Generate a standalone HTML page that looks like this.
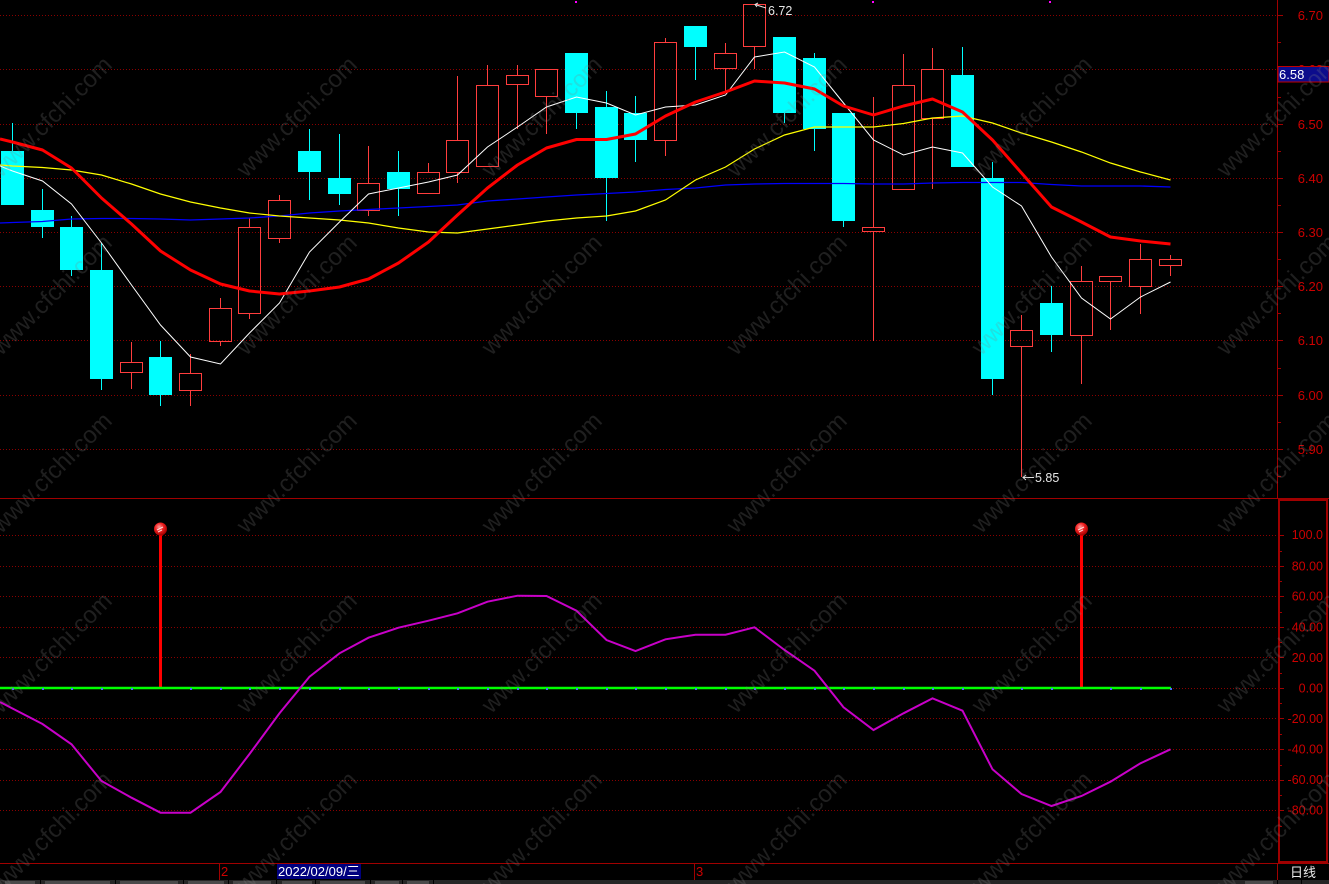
<!DOCTYPE html>
<html><head><meta charset="utf-8"><style>
html,body{margin:0;padding:0;background:#000;}
svg{display:block;}
text{font-family:"Liberation Sans","Noto Sans CJK SC",sans-serif;}
</style></head><body>
<svg width="1329" height="884" viewBox="0 0 1329 884" xmlns="http://www.w3.org/2000/svg">
<defs>
<radialGradient id="ball" cx="40%" cy="35%" r="65%">
<stop offset="0" stop-color="#ff9a9a"/><stop offset="0.5" stop-color="#f02020"/><stop offset="1" stop-color="#a00000"/>
</radialGradient>
</defs>
<rect width="1329" height="884" fill="#000"/>

<!-- upper grid -->
<g stroke="#8a0000" stroke-width="1" stroke-dasharray="1 2">
<line x1="0" y1="15.5" x2="1277" y2="15.5"/>
<line x1="0" y1="69.5" x2="1277" y2="69.5"/>
<line x1="0" y1="124.5" x2="1277" y2="124.5"/>
<line x1="0" y1="178.5" x2="1277" y2="178.5"/>
<line x1="0" y1="232.5" x2="1277" y2="232.5"/>
<line x1="0" y1="286.5" x2="1277" y2="286.5"/>
<line x1="0" y1="340.5" x2="1277" y2="340.5"/>
<line x1="0" y1="395.5" x2="1277" y2="395.5"/>
<line x1="0" y1="449.5" x2="1277" y2="449.5"/>
</g>
<!-- lower grid -->
<g stroke="#8a0000" stroke-width="1" stroke-dasharray="1 2">
<line x1="0" y1="535.5" x2="1277" y2="535.5"/>
<line x1="0" y1="566.5" x2="1277" y2="566.5"/>
<line x1="0" y1="596.5" x2="1277" y2="596.5"/>
<line x1="0" y1="627.5" x2="1277" y2="627.5"/>
<line x1="0" y1="657.5" x2="1277" y2="657.5"/>
<line x1="0" y1="688.5" x2="1277" y2="688.5"/>
<line x1="0" y1="718.5" x2="1277" y2="718.5"/>
<line x1="0" y1="749.5" x2="1277" y2="749.5"/>
<line x1="0" y1="780.5" x2="1277" y2="780.5"/>
<line x1="0" y1="810.5" x2="1277" y2="810.5"/>
</g>

<!-- cyan candles -->
<g stroke="#00ffff" stroke-width="1">
<line x1="12.5" y1="123" x2="12.5" y2="205"/>
<line x1="42.5" y1="189" x2="42.5" y2="238"/>
<line x1="71.5" y1="216" x2="71.5" y2="276"/>
<line x1="101.5" y1="243" x2="101.5" y2="390"/>
<line x1="160.5" y1="341" x2="160.5" y2="406"/>
<line x1="309.5" y1="129" x2="309.5" y2="200"/>
<line x1="339.5" y1="134" x2="339.5" y2="205"/>
<line x1="398.5" y1="151" x2="398.5" y2="216"/>
<line x1="576.5" y1="53" x2="576.5" y2="129"/>
<line x1="606.5" y1="91" x2="606.5" y2="221"/>
<line x1="635.5" y1="96" x2="635.5" y2="162"/>
<line x1="695.5" y1="26" x2="695.5" y2="80"/>
<line x1="784.5" y1="37" x2="784.5" y2="123"/>
<line x1="814.5" y1="53" x2="814.5" y2="151"/>
<line x1="843.5" y1="113" x2="843.5" y2="227"/>
<line x1="962.5" y1="47" x2="962.5" y2="167"/>
<line x1="992.5" y1="162" x2="992.5" y2="395"/>
<line x1="1051.5" y1="286" x2="1051.5" y2="352"/>
</g>
<g fill="#00ffff">
<rect x="1" y="151" width="23" height="54"/>
<rect x="31" y="210" width="23" height="17"/>
<rect x="60" y="227" width="23" height="43"/>
<rect x="90" y="270" width="23" height="109"/>
<rect x="149" y="357" width="23" height="38"/>
<rect x="298" y="151" width="23" height="21"/>
<rect x="328" y="178" width="23" height="16"/>
<rect x="387" y="172" width="23" height="17"/>
<rect x="565" y="53" width="23" height="60"/>
<rect x="595" y="107" width="23" height="71"/>
<rect x="624" y="113" width="23" height="27"/>
<rect x="684" y="26" width="23" height="21"/>
<rect x="773" y="37" width="23" height="76"/>
<rect x="803" y="58" width="23" height="71"/>
<rect x="832" y="113" width="23" height="108"/>
<rect x="951" y="75" width="23" height="92"/>
<rect x="981" y="178" width="23" height="201"/>
<rect x="1040" y="303" width="23" height="32"/>
</g>

<!-- red hollow candles -->
<g stroke="#ff3d3d" stroke-width="1" fill="none">
<line x1="131.5" y1="342" x2="131.5" y2="362"/><line x1="131.5" y1="373" x2="131.5" y2="389"/>
<rect x="120.5" y="362.5" width="22" height="10"/>
<line x1="190.5" y1="354" x2="190.5" y2="373"/><line x1="190.5" y1="391" x2="190.5" y2="406"/>
<rect x="179.5" y="373.5" width="22" height="17"/>
<line x1="220.5" y1="298" x2="220.5" y2="308"/><line x1="220.5" y1="342" x2="220.5" y2="346"/>
<rect x="209.5" y="308.5" width="22" height="33"/>
<line x1="249.5" y1="218" x2="249.5" y2="227"/><line x1="249.5" y1="314" x2="249.5" y2="319"/>
<rect x="238.5" y="227.5" width="22" height="86"/>
<line x1="279.5" y1="195" x2="279.5" y2="200"/><line x1="279.5" y1="239" x2="279.5" y2="243"/>
<rect x="268.5" y="200.5" width="22" height="38"/>
<line x1="368.5" y1="146" x2="368.5" y2="183"/><line x1="368.5" y1="211" x2="368.5" y2="216"/>
<rect x="357.5" y="183.5" width="22" height="27"/>
<line x1="428.5" y1="163" x2="428.5" y2="172"/>
<rect x="417.5" y="172.5" width="22" height="21"/>
<line x1="457.5" y1="76" x2="457.5" y2="140"/><line x1="457.5" y1="173" x2="457.5" y2="183"/>
<rect x="446.5" y="140.5" width="22" height="32"/>
<line x1="487.5" y1="65" x2="487.5" y2="85"/>
<rect x="476.5" y="85.5" width="22" height="81"/>
<line x1="517.5" y1="65" x2="517.5" y2="75"/><line x1="517.5" y1="85" x2="517.5" y2="129"/>
<rect x="506.5" y="75.5" width="22" height="9"/>
<line x1="546.5" y1="97" x2="546.5" y2="134"/>
<rect x="535.5" y="69.5" width="22" height="27"/>
<line x1="665.5" y1="38" x2="665.5" y2="42"/><line x1="665.5" y1="141" x2="665.5" y2="156"/>
<rect x="654.5" y="42.5" width="22" height="98"/>
<line x1="725.5" y1="43" x2="725.5" y2="53"/><line x1="725.5" y1="69" x2="725.5" y2="91"/>
<rect x="714.5" y="53.5" width="22" height="15"/>
<line x1="754.5" y1="47" x2="754.5" y2="69"/>
<rect x="743.5" y="4.5" width="22" height="42"/>
<line x1="873.5" y1="97" x2="873.5" y2="227"/><line x1="873.5" y1="232" x2="873.5" y2="341"/>
<rect x="862.5" y="227.5" width="22" height="4"/>
<line x1="903.5" y1="54" x2="903.5" y2="85"/>
<rect x="892.5" y="85.5" width="22" height="104"/>
<line x1="932.5" y1="48" x2="932.5" y2="69"/><line x1="932.5" y1="119" x2="932.5" y2="189"/>
<rect x="921.5" y="69.5" width="22" height="49"/>
<line x1="1021.5" y1="315" x2="1021.5" y2="330"/><line x1="1021.5" y1="347" x2="1021.5" y2="477"/>
<rect x="1010.5" y="330.5" width="22" height="16"/>
<line x1="1081.5" y1="266" x2="1081.5" y2="281"/><line x1="1081.5" y1="336" x2="1081.5" y2="384"/>
<rect x="1070.5" y="281.5" width="22" height="54"/>
<line x1="1110.5" y1="282" x2="1110.5" y2="330"/>
<rect x="1099.5" y="276.5" width="22" height="5"/>
<line x1="1140.5" y1="244" x2="1140.5" y2="259"/><line x1="1140.5" y1="287" x2="1140.5" y2="314"/>
<rect x="1129.5" y="259.5" width="22" height="27"/>
<line x1="1170.5" y1="255" x2="1170.5" y2="259"/><line x1="1170.5" y1="266" x2="1170.5" y2="276"/>
<rect x="1159.5" y="259.5" width="22" height="6"/>
</g>

<!-- moving averages -->
<polyline fill="none" stroke="#0000ff" stroke-width="1.3" points="0,223 12.5,222.5 42.5,221.5 71.5,219 101.5,218.5 131.5,218.5 160.5,219 190.5,220 220.5,219 249.5,218 279.5,216 309.5,213 339.5,211 368.5,209.5 398.5,208 428.5,206.5 457.5,205 487.5,201 517.5,199 546.5,197 576.5,195 606.5,193.5 635.5,192 665.5,189.5 695.5,188 725.5,185 754.5,184 784.5,183.5 814.5,183.5 843.5,183.5 873.5,184 903.5,184 932.5,183 962.5,182.5 992.5,182.5 1021.5,182.5 1051.5,184.5 1081.5,186 1110.5,186 1140.5,186 1170.5,187"/>
<polyline fill="none" stroke="#ffff00" stroke-width="1.2" points="0,165 12.5,166 42.5,167.5 71.5,170 101.5,175 131.5,184 160.5,194 190.5,202 220.5,208 249.5,213 279.5,216 309.5,218 339.5,220 368.5,223 398.5,228 428.5,232 457.5,233 487.5,229 517.5,225 546.5,221 576.5,218 606.5,216 635.5,211 665.5,200 695.5,180 725.5,167 754.5,149 784.5,135 814.5,127 843.5,127 873.5,127 903.5,123.5 932.5,118 962.5,116 992.5,123 1021.5,133 1051.5,142 1081.5,152 1110.5,163 1140.5,172 1170.5,180"/>
<polyline fill="none" stroke="#ffffff" stroke-width="1" points="0,166 12.5,171 42.5,181 71.5,204 101.5,243 131.5,285 160.5,325 190.5,357 220.5,364 249.5,333 279.5,303 309.5,252 339.5,222 368.5,194 398.5,188 428.5,182 457.5,175 487.5,147 517.5,127 546.5,107 576.5,97 606.5,103 635.5,115 665.5,107 695.5,105 725.5,95 754.5,57 784.5,52 814.5,67 843.5,103 873.5,140 903.5,155 932.5,147 962.5,153 992.5,187 1021.5,206 1051.5,257 1081.5,298 1110.5,319 1140.5,297 1170.5,282"/>
<polyline fill="none" stroke="#ff0000" stroke-width="3" stroke-linejoin="round" points="0,139 12.5,142 42.5,150 71.5,168 101.5,198 131.5,224 160.5,251 190.5,270 220.5,284 249.5,291 279.5,294 309.5,291 339.5,287 368.5,279 398.5,263 428.5,242 457.5,215 487.5,188 517.5,165 546.5,148 576.5,139.5 606.5,139.5 635.5,134 665.5,116 695.5,102 725.5,92 754.5,81 784.5,83 814.5,89 843.5,106 873.5,115 903.5,106 932.5,99 962.5,112 992.5,140 1021.5,173 1051.5,207 1081.5,222 1110.5,237 1140.5,241 1170.5,244"/>

<!-- annotations -->
<g stroke="#e0e0e0" stroke-width="1" fill="none">
<polyline points="766,8 755,4.5"/><polyline points="758,3 755,4.5 757,7"/>
<polyline points="1023,477.5 1034,477.5"/><polyline points="1026,475 1023,477.5 1026,480"/>
</g>
<text x="768" y="15" font-size="12.5" fill="#e6e6e6">6.72</text>
<text x="1035" y="482" font-size="12.5" fill="#e6e6e6">5.85</text>

<!-- top magenta dots -->
<g fill="#ff00ff"><rect x="575" y="1" width="2" height="2"/><rect x="872" y="1" width="2" height="2"/><rect x="1049" y="1" width="2" height="2"/></g>

<!-- lower indicator -->
<rect x="159" y="534" width="3" height="154" fill="#ff0000"/>
<rect x="1080" y="534" width="3" height="154" fill="#ff0000"/>
<line x1="0" y1="688" x2="1171" y2="688" stroke="#00ff00" stroke-width="2.5"/>
<g fill="#4a6cff">
<rect x="12" y="688" width="2" height="2"/><rect x="42" y="688" width="2" height="2"/><rect x="71" y="688" width="2" height="2"/><rect x="101" y="688" width="2" height="2"/><rect x="131" y="688" width="2" height="2"/><rect x="190" y="688" width="2" height="2"/><rect x="220" y="688" width="2" height="2"/><rect x="249" y="688" width="2" height="2"/><rect x="279" y="688" width="2" height="2"/><rect x="309" y="688" width="2" height="2"/><rect x="339" y="688" width="2" height="2"/><rect x="368" y="688" width="2" height="2"/><rect x="398" y="688" width="2" height="2"/><rect x="428" y="688" width="2" height="2"/><rect x="457" y="688" width="2" height="2"/><rect x="487" y="688" width="2" height="2"/><rect x="517" y="688" width="2" height="2"/><rect x="546" y="688" width="2" height="2"/><rect x="576" y="688" width="2" height="2"/><rect x="606" y="688" width="2" height="2"/><rect x="635" y="688" width="2" height="2"/><rect x="665" y="688" width="2" height="2"/><rect x="695" y="688" width="2" height="2"/><rect x="725" y="688" width="2" height="2"/><rect x="754" y="688" width="2" height="2"/><rect x="784" y="688" width="2" height="2"/><rect x="814" y="688" width="2" height="2"/><rect x="843" y="688" width="2" height="2"/><rect x="873" y="688" width="2" height="2"/><rect x="903" y="688" width="2" height="2"/><rect x="932" y="688" width="2" height="2"/><rect x="962" y="688" width="2" height="2"/><rect x="992" y="688" width="2" height="2"/><rect x="1021" y="688" width="2" height="2"/><rect x="1051" y="688" width="2" height="2"/><rect x="1110" y="688" width="2" height="2"/><rect x="1140" y="688" width="2" height="2"/><rect x="1170" y="688" width="2" height="2"/>
</g>
<polyline fill="none" stroke="#c800c8" stroke-width="2" points="0,702 12.5,708.5 42.5,724 71.5,744.3 101.5,781 131.5,797.7 160.5,812.7 190.5,812.7 220.5,792 249.5,754 279.5,713.3 309.5,676.7 339.5,653.3 368.5,637.7 398.5,627.7 428.5,620.7 457.5,613.3 487.5,601.7 517.5,595.7 546.5,596 576.5,610.7 606.5,640 635.5,651 665.5,639.3 695.5,634.7 725.5,634.7 754.5,627.3 784.5,650 814.5,670.7 843.5,707.3 873.5,730 903.5,713.3 932.5,698.3 962.5,710.7 992.5,769.3 1021.5,794 1051.5,806 1081.5,796 1110.5,781.7 1140.5,763.3 1170.5,749.3"/>
<circle cx="160.5" cy="529" r="6.5" fill="url(#ball)"/>
<path d="M157 530 L163 527 M158 532 L162 530" stroke="#ffffff" stroke-width="1" opacity="0.8"/>
<circle cx="1081.5" cy="529" r="6.5" fill="url(#ball)"/>
<path d="M1078 530 L1084 527 M1079 532 L1083 530" stroke="#ffffff" stroke-width="1" opacity="0.8"/>

<!-- frame / axes -->
<line x1="0" y1="498.5" x2="1329" y2="498.5" stroke="#a00000" stroke-width="1"/>
<line x1="1277.5" y1="0" x2="1277.5" y2="498" stroke="#a00000" stroke-width="1"/>
<rect x="1279" y="500" width="48" height="362" fill="none" stroke="#a00000" stroke-width="2"/>
<line x1="0" y1="863.5" x2="1329" y2="863.5" stroke="#a00000" stroke-width="1"/>
<line x1="1277.5" y1="863" x2="1277.5" y2="880" stroke="#a00000" stroke-width="1"/>

<!-- upper ticks -->
<g stroke="#a00000" stroke-width="1">
<line x1="1278" y1="15.5" x2="1283" y2="15.5"/><line x1="1278" y1="42.5" x2="1281" y2="42.5"/>
<line x1="1278" y1="69.5" x2="1283" y2="69.5"/><line x1="1278" y1="97.5" x2="1281" y2="97.5"/>
<line x1="1278" y1="124.5" x2="1283" y2="124.5"/><line x1="1278" y1="151.5" x2="1281" y2="151.5"/>
<line x1="1278" y1="178.5" x2="1283" y2="178.5"/><line x1="1278" y1="205.5" x2="1281" y2="205.5"/>
<line x1="1278" y1="232.5" x2="1283" y2="232.5"/><line x1="1278" y1="259.5" x2="1281" y2="259.5"/>
<line x1="1278" y1="286.5" x2="1283" y2="286.5"/><line x1="1278" y1="313.5" x2="1281" y2="313.5"/>
<line x1="1278" y1="340.5" x2="1283" y2="340.5"/><line x1="1278" y1="368.5" x2="1281" y2="368.5"/>
<line x1="1278" y1="395.5" x2="1283" y2="395.5"/><line x1="1278" y1="422.5" x2="1281" y2="422.5"/>
<line x1="1278" y1="449.5" x2="1283" y2="449.5"/><line x1="1278" y1="476.5" x2="1281" y2="476.5"/>
</g>
<g stroke="#a00000" stroke-width="1">
<line x1="1280" y1="535.5" x2="1284" y2="535.5"/><line x1="1280" y1="551.5" x2="1282" y2="551.5"/>
<line x1="1280" y1="566.5" x2="1284" y2="566.5"/><line x1="1280" y1="581.5" x2="1282" y2="581.5"/>
<line x1="1280" y1="596.5" x2="1284" y2="596.5"/><line x1="1280" y1="612.5" x2="1282" y2="612.5"/>
<line x1="1280" y1="627.5" x2="1284" y2="627.5"/><line x1="1280" y1="642.5" x2="1282" y2="642.5"/>
<line x1="1280" y1="657.5" x2="1284" y2="657.5"/><line x1="1280" y1="673.5" x2="1282" y2="673.5"/>
<line x1="1280" y1="688.5" x2="1284" y2="688.5"/><line x1="1280" y1="703.5" x2="1282" y2="703.5"/>
<line x1="1280" y1="718.5" x2="1284" y2="718.5"/><line x1="1280" y1="734.5" x2="1282" y2="734.5"/>
<line x1="1280" y1="749.5" x2="1284" y2="749.5"/><line x1="1280" y1="765.5" x2="1282" y2="765.5"/>
<line x1="1280" y1="780.5" x2="1284" y2="780.5"/><line x1="1280" y1="795.5" x2="1282" y2="795.5"/>
<line x1="1280" y1="810.5" x2="1284" y2="810.5"/><line x1="1280" y1="826.5" x2="1282" y2="826.5"/>
</g>

<!-- axis labels -->
<g font-size="13" fill="#cc0000" text-anchor="end">
<text x="1323" y="20">6.70</text>
<text x="1323" y="74">6.60</text>
<text x="1323" y="129">6.50</text>
<text x="1323" y="183">6.40</text>
<text x="1323" y="237">6.30</text>
<text x="1323" y="291">6.20</text>
<text x="1323" y="345">6.10</text>
<text x="1323" y="400">6.00</text>
<text x="1323" y="454">5.90</text>
</g>
<rect x="1278" y="66.5" width="51" height="15.5" fill="#0c0c8c" stroke="#c00000" stroke-width="1"/>
<text x="1279" y="79" font-size="13" fill="#ffffff">6.58</text>
<g font-size="12.5" fill="#cc0000" text-anchor="end">
<text x="1323" y="539">100.0</text>
<text x="1323" y="570.5">80.00</text>
<text x="1323" y="600.5">60.00</text>
<text x="1323" y="631.5">40.00</text>
<text x="1323" y="662">20.00</text>
<text x="1323" y="692.5">0.00</text>
<text x="1323" y="723">-20.00</text>
<text x="1323" y="753.5">-40.00</text>
<text x="1323" y="784">-60.00</text>
<text x="1323" y="814.5">-80.00</text>
</g>

<!-- date axis -->
<line x1="219.5" y1="864" x2="219.5" y2="880" stroke="#a00000"/>
<text x="221" y="876" font-size="13" fill="#cc0000">2</text>
<line x1="694.5" y1="864" x2="694.5" y2="880" stroke="#a00000"/>
<text x="696" y="876" font-size="13" fill="#cc0000">3</text>
<rect x="277" y="864" width="84" height="15" fill="#00007f"/>
<text x="278" y="876" font-size="13" fill="#ffffff">2022/02/09/三</text>
<text x="1290" y="877" font-size="13" fill="#e8e8e8" font-family="'Noto Sans CJK SC',sans-serif">日线</text>

<!-- bottom tab strip -->
<rect x="0" y="880" width="1329" height="4" fill="#262626"/>
<g fill="#4a4a4a">
<rect x="5" y="881" width="30" height="3"/><rect x="45" y="881" width="65" height="3"/><rect x="120" y="881" width="58" height="3"/><rect x="188" y="881" width="36" height="3"/><rect x="233" y="881" width="38" height="3"/><rect x="282" y="881" width="30" height="3"/><rect x="320" y="881" width="45" height="3"/><rect x="375" y="881" width="24" height="3"/><rect x="407" y="881" width="22" height="3"/><rect x="1245" y="881" width="28" height="3"/>
</g>
<g stroke="#000" stroke-width="1">
<line x1="40.5" y1="880" x2="40.5" y2="884"/><line x1="115.5" y1="880" x2="115.5" y2="884"/><line x1="183.5" y1="880" x2="183.5" y2="884"/><line x1="228.5" y1="880" x2="228.5" y2="884"/><line x1="276.5" y1="880" x2="276.5" y2="884"/><line x1="315.5" y1="880" x2="315.5" y2="884"/><line x1="370.5" y1="880" x2="370.5" y2="884"/><line x1="402.5" y1="880" x2="402.5" y2="884"/><line x1="433.5" y1="880" x2="433.5" y2="884"/><line x1="1277.5" y1="880" x2="1277.5" y2="884"/><line x1="1301.5" y1="880" x2="1301.5" y2="884"/>
</g>

<!-- watermarks -->
<g font-size="24" fill="rgba(128,128,128,0.24)" text-anchor="middle" dominant-baseline="central">
<text transform="translate(52,117) rotate(-45)">www.cfchi.com</text>
<text transform="translate(297,117) rotate(-45)">www.cfchi.com</text>
<text transform="translate(542,117) rotate(-45)">www.cfchi.com</text>
<text transform="translate(787,117) rotate(-45)">www.cfchi.com</text>
<text transform="translate(1032,117) rotate(-45)">www.cfchi.com</text>
<text transform="translate(1277,117) rotate(-45)">www.cfchi.com</text>
<text transform="translate(52,295) rotate(-45)">www.cfchi.com</text>
<text transform="translate(297,295) rotate(-45)">www.cfchi.com</text>
<text transform="translate(542,295) rotate(-45)">www.cfchi.com</text>
<text transform="translate(787,295) rotate(-45)">www.cfchi.com</text>
<text transform="translate(1032,295) rotate(-45)">www.cfchi.com</text>
<text transform="translate(1277,295) rotate(-45)">www.cfchi.com</text>
<text transform="translate(52,473) rotate(-45)">www.cfchi.com</text>
<text transform="translate(297,473) rotate(-45)">www.cfchi.com</text>
<text transform="translate(542,473) rotate(-45)">www.cfchi.com</text>
<text transform="translate(787,473) rotate(-45)">www.cfchi.com</text>
<text transform="translate(1032,473) rotate(-45)">www.cfchi.com</text>
<text transform="translate(1277,473) rotate(-45)">www.cfchi.com</text>
<text transform="translate(52,653) rotate(-45)">www.cfchi.com</text>
<text transform="translate(297,653) rotate(-45)">www.cfchi.com</text>
<text transform="translate(542,653) rotate(-45)">www.cfchi.com</text>
<text transform="translate(787,653) rotate(-45)">www.cfchi.com</text>
<text transform="translate(1032,653) rotate(-45)">www.cfchi.com</text>
<text transform="translate(1277,653) rotate(-45)">www.cfchi.com</text>
<text transform="translate(52,832) rotate(-45)">www.cfchi.com</text>
<text transform="translate(297,832) rotate(-45)">www.cfchi.com</text>
<text transform="translate(542,832) rotate(-45)">www.cfchi.com</text>
<text transform="translate(787,832) rotate(-45)">www.cfchi.com</text>
<text transform="translate(1032,832) rotate(-45)">www.cfchi.com</text>
<text transform="translate(1277,832) rotate(-45)">www.cfchi.com</text>
</g>
</svg>
</body></html>
